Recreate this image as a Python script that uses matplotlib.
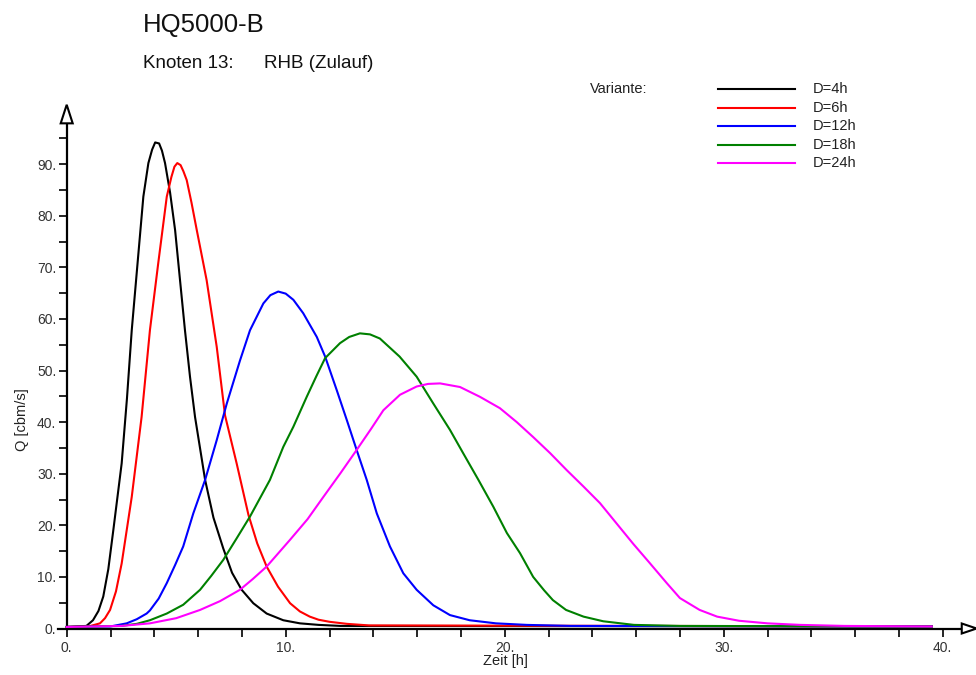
import matplotlib
matplotlib.use("Agg")
import matplotlib.pyplot as plt
from matplotlib.patches import Polygon
from matplotlib.lines import Line2D

plt.rcParams['font.family'] = ['Liberation Sans', 'DejaVu Sans']

# hydrographs (Zeit [h], Q [cbm/s])
t_4h = [0, 0.9, 1.2, 1.45, 1.67, 1.9, 2.13, 2.51, 2.75, 2.97, 3.25, 3.5, 3.73,
        3.9, 4.04, 4.22, 4.35, 4.49, 4.72, 4.95, 5.17, 5.4, 5.63, 5.86, 6.32,
        6.7, 7.15, 7.55, 7.99, 8.52, 9.13, 9.89, 10.65, 11.5, 12.5, 39.5]
q_4h = [0.3, 0.5, 1.6, 3.4, 6.2, 11.5, 19.1, 32.0, 44.5, 57.8, 71.5, 83.7, 90.2,
        92.8, 94.2, 94.0, 92.6, 90.2, 84.5, 77.2, 67.7, 57.8, 48.8, 41.0, 28.8,
        21.5, 15.5, 10.8, 7.5, 4.9, 2.9, 1.6, 1.0, 0.7, 0.5, 0.4]

t_6h = [0, 1.0, 1.52, 1.75, 1.98, 2.25, 2.51, 2.97, 3.42, 3.8, 4.18, 4.57, 4.78,
        4.92, 5.05, 5.2, 5.33, 5.48, 5.7, 5.94, 6.39, 6.85, 7.23, 7.76, 8.3,
        8.7, 9.13, 9.65, 10.2, 10.65, 11.1, 11.5, 12.0, 12.8, 13.8, 39.5]
q_6h = [0.3, 0.4, 1.0, 2.0, 3.6, 7.2, 12.6, 25.5, 41.0, 57.8, 70.8, 83.7, 87.5,
        89.5, 90.2, 89.8, 88.6, 86.9, 82.5, 77.2, 67.5, 54.6, 41.3, 32.0, 22.0,
        16.5, 12.0, 8.1, 4.9, 3.3, 2.3, 1.7, 1.3, 0.9, 0.6, 0.4]

t_12h = [0, 2.0, 2.74, 3.2, 3.65, 3.8, 4.2, 4.57, 4.95, 5.32, 5.78, 6.32, 6.85,
         7.31, 7.91, 8.37, 8.98, 9.3, 9.66, 10.0, 10.35, 10.8, 11.42, 11.8,
         12.33, 12.79, 13.24, 13.7, 14.16, 14.76, 15.37, 15.98, 16.74, 17.5,
         18.4, 19.6, 21.0, 23.0, 39.5]
q_12h = [0.3, 0.4, 1.0, 1.8, 2.9, 3.5, 5.8, 8.8, 12.3, 15.9, 22.3, 28.8, 36.5,
         43.6, 51.9, 57.8, 63.0, 64.6, 65.3, 64.9, 63.7, 61.1, 56.5, 52.7,
         46.2, 40.4, 34.6, 28.8, 22.3, 15.9, 10.7, 7.5, 4.5, 2.6,
         1.6, 1.0, 0.7, 0.5, 0.4]

t_18h = [0, 2.5, 3.2, 3.8, 4.57, 5.32, 6.09, 6.6, 7.15, 7.75, 8.37, 9.28, 9.89,
         10.35, 10.96, 11.4, 11.8, 12.48, 12.9, 13.39, 13.85, 14.3, 15.2, 15.98,
         16.74, 17.5, 18.1, 18.8, 19.48, 20.1, 20.7, 21.3, 21.8, 22.2, 22.8,
         23.6, 24.5, 25.9, 28.0, 39.5]
q_18h = [0.3, 0.5, 0.9, 1.6, 2.9, 4.6, 7.5, 10.2, 13.3, 17.4, 21.7, 28.8, 35.2,
         39.1, 44.9, 48.9, 52.4, 55.3, 56.5, 57.2, 57.0, 56.2, 52.7, 48.8,
         43.6, 38.5, 34.0, 28.8, 23.6, 18.5, 14.6, 10.0, 7.4, 5.5, 3.6,
         2.3, 1.4, 0.7, 0.5, 0.4]

t_24h = [0, 2.5, 3.8, 5.0, 6.09, 7.0, 7.91, 8.5, 9.13, 10.2, 11.0, 11.72, 12.5,
         13.24, 13.9, 14.46, 15.22, 15.98, 16.5, 17.05, 17.96, 18.87, 19.78,
         20.55, 21.3, 22.07, 22.83, 23.6, 24.35, 25.1, 25.87, 26.6, 27.4, 28.0,
         28.9, 29.7, 30.7, 32.0, 33.5, 35.5, 39.5]
q_24h = [0.3, 0.5, 1.0, 2.0, 3.6, 5.3, 7.5, 9.6, 12.0, 17.2, 21.2, 25.5, 30.1,
         34.6, 38.7, 42.3, 45.3, 46.9, 47.4, 47.5, 46.8, 44.9, 42.7,
         40.0, 37.1, 34.0, 30.7, 27.5, 24.3, 20.4, 16.4, 12.8, 8.8, 5.9,
         3.6, 2.3, 1.5, 1.0, 0.7, 0.5, 0.4]

labels = ['D=4h', 'D=6h', 'D=12h', 'D=18h', 'D=24h']
colors = ['#000000', '#ff0000', '#0000ff', '#008000', '#ff00ff']
series = [(t_4h, q_4h), (t_6h, q_6h), (t_12h, q_12h), (t_18h, q_18h), (t_24h, q_24h)]

x_major = [0, 10, 20, 30, 40]
y_major = [0, 10, 20, 30, 40, 50, 60, 70, 80, 90]

W, H = 976, 675
fig = plt.figure(figsize=(W / 100, H / 100), dpi=100)
# x 0..40 -> px 66.7..942.7, y 0..100 -> px 628.5..112.5
ax = fig.add_axes([66.7 / W, 1 - 628.5 / H, 876 / W, 516 / H])
ax.set_xlim(0, 40)
ax.set_ylim(0, 100)

for (t, q), c in zip(series, colors):
    ax.plot(t, q, color=c, lw=1.5, clip_on=False, zorder=3, solid_joinstyle='round')

ax.spines['top'].set_visible(False)
ax.spines['right'].set_visible(False)
for s in ['left', 'bottom']:
    ax.spines[s].set_linewidth(1.6)
ax.spines['bottom'].set_bounds(-0.4, 40.9)
ax.spines['left'].set_bounds(0, 97.9)

ax.set_xticks(x_major)
ax.set_xticklabels([f'{v}.' for v in x_major])
ax.set_xticks(range(0, 41, 2), minor=True)
ax.set_yticks(y_major)
ax.set_yticklabels([f'{v}.' for v in y_major])
ax.set_yticks(range(0, 96, 5), minor=True)
ax.tick_params(which='both', direction='out', length=5.5, width=1.2, color='black')
ax.tick_params(axis='both', labelsize=10, labelcolor='#333333')
ax.tick_params(axis='x', pad=3.5)
ax.tick_params(axis='y', pad=2)

# open arrow heads at axis ends
px_x = 40 / 876
px_y = 100 / 516
ax.add_patch(Polygon([[0 - 6 * px_x, 97.9], [0 + 6 * px_x, 97.9], [0, 101.5]],
                     closed=True, fc='white', ec='black', lw=1.5, clip_on=False, zorder=4))
ax.add_patch(Polygon([[40.87, -5 * px_y], [40.87, 5 * px_y], [41.55, 0]],
                     closed=True, fc='white', ec='black', lw=1.5, clip_on=False, zorder=4))

fig.text(22 / W, 1 - 420 / H, 'Q [cbm/s]', rotation=90, ha='center', va='center',
         fontsize=10.5, color='#222222')
fig.text(505 / W, 1 - 661 / H, 'Zeit [h]', ha='center', va='center',
         fontsize=10.5, color='#222222')

fig.text(143 / W, 1 - 32 / H, 'HQ5000-B', fontsize=18.5, va='baseline', color='#111111')
fig.text(143 / W, 1 - 68 / H, 'Knoten 13:', fontsize=13.5, va='baseline', color='#111111')
fig.text(264 / W, 1 - 68 / H, 'RHB (Zulauf)', fontsize=13.5, va='baseline', color='#111111')

fig.text(590 / W, 1 - 93 / H, 'Variante:', fontsize=10.5, va='baseline', color='#222222')
rows = [89, 107.7, 126, 144.7, 163.3]
for lab, c, yy in zip(labels, colors, rows):
    fig.add_artist(Line2D([718 / W, 795 / W], [1 - yy / H, 1 - yy / H], color=c, lw=1.5))
    fig.text(813 / W, 1 - (yy + 4) / H, lab, fontsize=10.5, va='baseline', color='#222222')

fig.savefig('out.png', dpi=100)
